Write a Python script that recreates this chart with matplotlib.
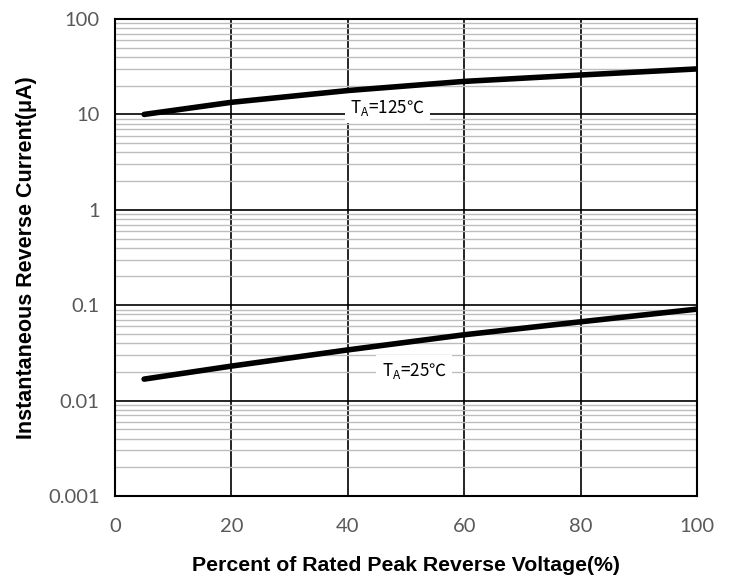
import matplotlib
matplotlib.use("Agg")
import matplotlib.pyplot as plt
from matplotlib.ticker import LogLocator, FixedFormatter, FixedLocator

# Percent of rated peak reverse voltage
voltage_pct = [5, 20, 40, 60, 80, 100]
# reverse current (uA) at the two temperatures
current_125 = [10.0, 13.4, 17.8, 22.2, 25.9, 30.0]
current_25 = [0.0168, 0.023, 0.034, 0.049, 0.067, 0.091]

y_ticks = [0.001, 0.01, 0.1, 1, 10, 100]
y_labels = ["0.001", "0.01", "0.1", "1", "10", "100"]

fig = plt.figure(figsize=(7.34, 5.77), dpi=100)
ax = fig.add_axes([0.1567, 0.1404, 0.7929, 0.8266])

ax.set_yscale("log")
ax.set_xlim(0, 100)
ax.set_ylim(0.001, 100)

ax.yaxis.set_major_locator(FixedLocator(y_ticks))
ax.yaxis.set_major_formatter(FixedFormatter(y_labels))
ax.yaxis.set_minor_locator(LogLocator(base=10, subs=range(2, 10), numticks=20))
ax.set_xticks([0, 20, 40, 60, 80, 100])

ax.grid(which="minor", axis="y", color="#bdbdbd", linewidth=1.0)
ax.grid(which="major", color="black", linewidth=1.2)
ax.set_axisbelow(True)

ax.plot(voltage_pct, current_125, color="black", linewidth=4, solid_capstyle="round", zorder=5)
ax.plot(voltage_pct, current_25, color="black", linewidth=4, solid_capstyle="round", zorder=5)

# mathtext has no font fallback, so use a font that has the degree-C sign
ax.text(46.8, 11.8, "T$_\\mathregular{A}$=125\u2103", fontsize=12.3, family="Noto Sans CJK SC",
        ha="center", va="center", zorder=3,
        bbox=dict(facecolor="white", edgecolor="none", pad=4))
ax.text(51.4, 0.0205, "T$_\\mathregular{A}$=25\u2103", fontsize=12.3, family="Noto Sans CJK SC",
        ha="center", va="center", zorder=3,
        bbox=dict(facecolor="white", edgecolor="none", pad=4))

for s in ax.spines.values():
    s.set_linewidth(1.5)
    s.set_color("black")

ax.tick_params(which="both", length=0, labelsize=14.5, labelcolor="#595959")
ax.tick_params(axis="y", pad=11)
ax.tick_params(axis="x", pad=16)
for lab in ax.get_xticklabels() + ax.get_yticklabels():
    lab.set_family("Lato")

ax.set_xlabel("Percent of Rated Peak Reverse Voltage(%)", fontsize=15.3, fontweight="bold",
              family="Liberation Sans", labelpad=15)
ax.set_ylabel("Instantaneous Reverse Current(\u03bcA)", fontsize=15.5, fontweight="bold",
              family="Liberation Sans", labelpad=8)

fig.savefig("out.png", dpi=100)
